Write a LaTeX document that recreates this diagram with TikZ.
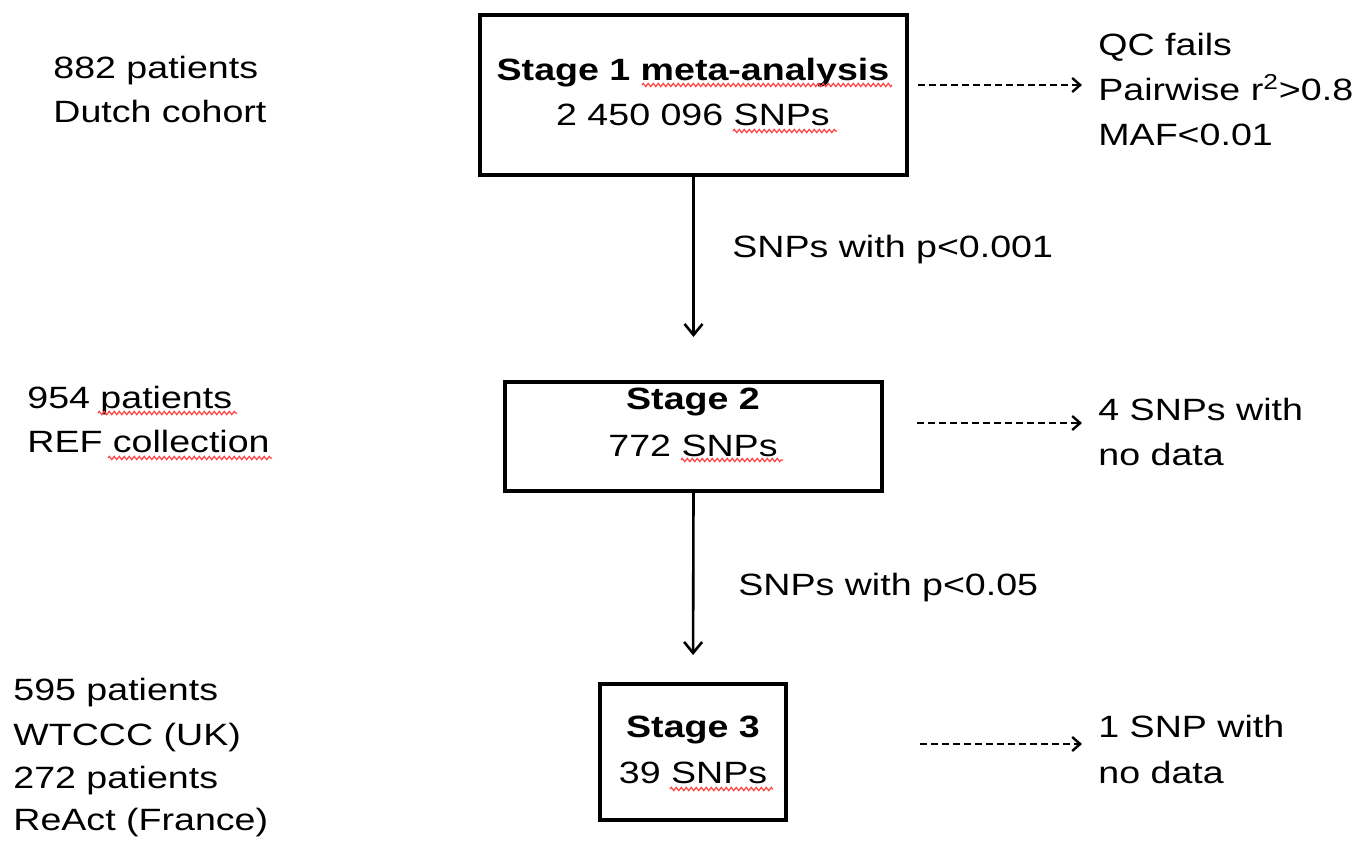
\documentclass[tikz,border=0pt]{standalone}
\usepackage{fontspec}
\setmainfont{Liberation Sans}[FakeStretch=1.22]
\usetikzlibrary{arrows.meta,decorations.pathmorphing}
\begin{document}
\begin{tikzpicture}[x=0.5pt,y=-0.5pt,
  txt/.style={inner sep=0pt, font=\fontsize{15.4pt}{22.5pt}\selectfont},
  btxt/.style={txt, font=\fontsize{15.4pt}{22.5pt}\selectfont\bfseries},
  stagebox/.style={draw, line width=2pt, inner sep=0pt},
  flow/.style={line width=1.3pt, -{Straight Barb[length=5.5pt,width=9pt,line width=1.3pt]}},
  drop/.style={line width=1.2pt, dash pattern=on 3.5pt off 2pt, -{Straight Barb[length=4pt,width=7pt,line width=1.2pt]}},
  spell/.style={red!75, line width=0.6pt, decorate, decoration={zigzag, amplitude=0.8pt, segment length=2.5pt}}]
\useasboundingbox (0,0) rectangle (1370,846);
% stage boxes
\node[stagebox, minimum width=213.5pt, minimum height=80pt] (s1) at (693.5,95) {};
\node[stagebox, minimum width=188.5pt, minimum height=54.5pt] (s2) at (693.5,436.5) {};
\node[stagebox, minimum width=93pt, minimum height=68pt] (s3) at (693,752) {};
% box texts
\node[btxt, anchor=base] (s1a) at (693,80) {Stage 1 meta-analysis};
\node[txt, anchor=base] (s1b) at (693,125) {2 450 096 SNPs};
\node[btxt, anchor=base] (s2a) at (693,409) {Stage 2};
\node[txt, anchor=base] (s2b) at (693,456) {772 SNPs};
\node[btxt, anchor=base] (s3a) at (693,737) {Stage 3};
\node[txt, anchor=base] (s3b) at (693,783) {39 SNPs};
% left texts
\node[txt, anchor=base west] (l1a) at (53,78) {882 patients};
\node[txt, anchor=base west] (l1b) at (53,122) {Dutch cohort};
\node[txt, anchor=base west] (l2a) at (27,408) {954 patients};
\node[txt, anchor=base west] (l2b) at (27,452) {REF collection};
\node[txt, anchor=base west] (l3a) at (13,700) {595 patients};
\node[txt, anchor=base west] (l3b) at (13,745) {WTCCC (UK)};
\node[txt, anchor=base west] (l3c) at (13,788) {272 patients};
\node[txt, anchor=base west] (l3d) at (13,830) {ReAct (France)};
% right texts
\node[txt, anchor=base west] (r1a) at (1098,55) {QC fails};
\node[txt, anchor=base west] (r1b) at (1098,100) {Pairwise r\textsuperscript{2}>0.8};
\node[txt, anchor=base west] (r1c) at (1098,145) {MAF<0.01};
\node[txt, anchor=base west] (r2a) at (1098,420) {4 SNPs with};
\node[txt, anchor=base west] (r2b) at (1098,465) {no data};
\node[txt, anchor=base west] (r3a) at (1098,737) {1 SNP with};
\node[txt, anchor=base west] (r3b) at (1098,783) {no data};
% edge labels
\node[txt, anchor=base west] (e1) at (732,257) {SNPs with p<0.001};
\node[txt, anchor=base west] (e2) at (738,595) {SNPs with p<0.05};
% spell-check underlines
\draw[spell] (642,85) -- (892,85);
\draw[spell] (733,131) -- (837,131);
\draw[spell] (681,460) -- (783,460);
\draw[spell] (670,789) -- (773,789);
\draw[spell] (98,413) -- (237,413);
\draw[spell] (108,458) -- (272,458);
% flow arrows
\draw[flow, shorten >=21.5pt] (s1.south) -- (s2.north);
\draw[flow, shorten >=13.5pt] (s2.south) -- (s3.north);
% dropped-SNP arrows
\coordinate (d1a) at (918,85);  \coordinate (d1b) at (1082,85);
\coordinate (d2a) at (917,423); \coordinate (d2b) at (1082,423);
\coordinate (d3a) at (920,744); \coordinate (d3b) at (1082,744);
\draw[drop] (d1a) -- (d1b);
\draw[drop] (d2a) -- (d2b);
\draw[drop] (d3a) -- (d3b);
\end{tikzpicture}
\end{document}
